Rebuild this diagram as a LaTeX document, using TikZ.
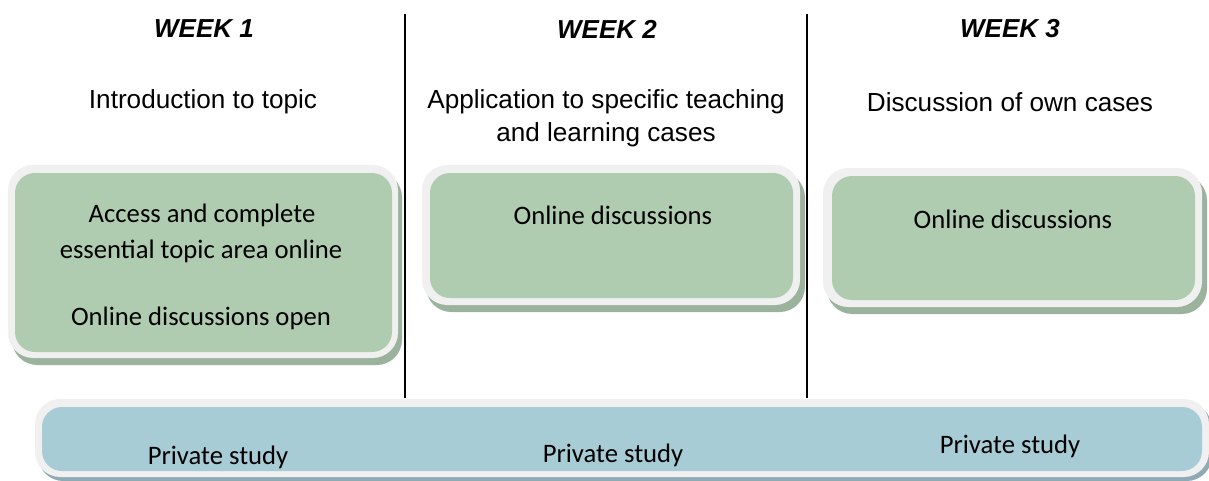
\documentclass[tikz,border=0pt]{standalone}
\usepackage{fontspec}
\setmainfont{Liberation Sans}
\newfontfamily\carlitofont{Carlito}
\definecolor{greenfill}{HTML}{AFCCB0}
\definecolor{greenshadow}{HTML}{9BB29C}
\definecolor{bluefill}{HTML}{A8CCD5}
\definecolor{blueshadow}{HTML}{8EABB3}
\definecolor{rimgray}{HTML}{F0F0F0}
\tikzset{
  weektitle/.style={font=\fontsize{19.5}{23}\selectfont\bfseries\itshape, inner sep=0pt},
  subtitle/.style={font=\fontsize{19.6}{24.75}\selectfont, align=center, inner sep=0pt},
  boxtext/.style={font=\carlitofont\fontsize{20}{26}\selectfont, align=center, inner sep=0pt},
  rim/.style={fill=rimgray, rounded corners=19pt},
  inner/.style={rounded corners=15pt},
  divider/.style={line width=1.1pt, black}
}
\begin{document}
\begin{tikzpicture}[x=0.75pt, y=-0.75pt]
\useasboundingbox (0,0) rectangle (1209,480);
\fill[white] (0,0) rectangle (1209,480);
% dividers
\coordinate (d1t) at (405,14); \coordinate (d1b) at (405,398);
\coordinate (d2t) at (807,14); \coordinate (d2b) at (807,398);
\draw[divider] (d1t) -- (d1b);
\draw[divider] (d2t) -- (d2b);
% titles
\node[weektitle] (w1) at (204,29) {WEEK 1};
\node[weektitle] (w2) at (607,29) {WEEK 2};
\node[weektitle] (w3) at (1010,29) {WEEK 3};
\node[subtitle] (s1) at (203,102) {Introduction to topic};
\node[subtitle] (s2) at (606,118) {Application to specific teaching\\and learning cases};
\node[subtitle] (s3) at (1010,102) {Discussion of own cases};
% box 1
\fill[greenshadow, rounded corners=19pt] (12,172) rectangle (402,365);
\fill[rim] (8,165) rectangle (398,358);
\fill[greenfill, inner] (15,173) rectangle (392,352);
% box 2
\fill[greenshadow, rounded corners=19pt] (426,172) rectangle (805,312);
\fill[rim] (422,165) rectangle (800,305);
\fill[greenfill, inner] (430,173) rectangle (793,298);
% box 3
\fill[greenshadow, rounded corners=19pt] (827,175) rectangle (1207,314);
\fill[rim] (823,168) rectangle (1202,307);
\fill[greenfill, inner] (832,176) rectangle (1195,300);
% bar
\fill[blueshadow, rounded corners=19pt] (38,403) rectangle (1212,481);
\fill[rim] (35,399) rectangle (1209,477);
\fill[bluefill, inner] (42,407) rectangle (1202,471);
% box texts
\node[boxtext] (b1a) at (202,215) {Access and complete};
\node[boxtext] (b1b) at (201,251) {essential topic area online};
\node[boxtext] (b1c) at (201,318) {Online discussions open};
\node[boxtext] (b2) at (613,215) {Online discussions};
\node[boxtext] (b3) at (1013,219) {Online discussions};
\node[boxtext] (p1) at (218,457) {Private study};
\node[boxtext] (p2) at (613,455) {Private study};
\node[boxtext] (p3) at (1010,446) {Private study};
\end{tikzpicture}
\end{document}
